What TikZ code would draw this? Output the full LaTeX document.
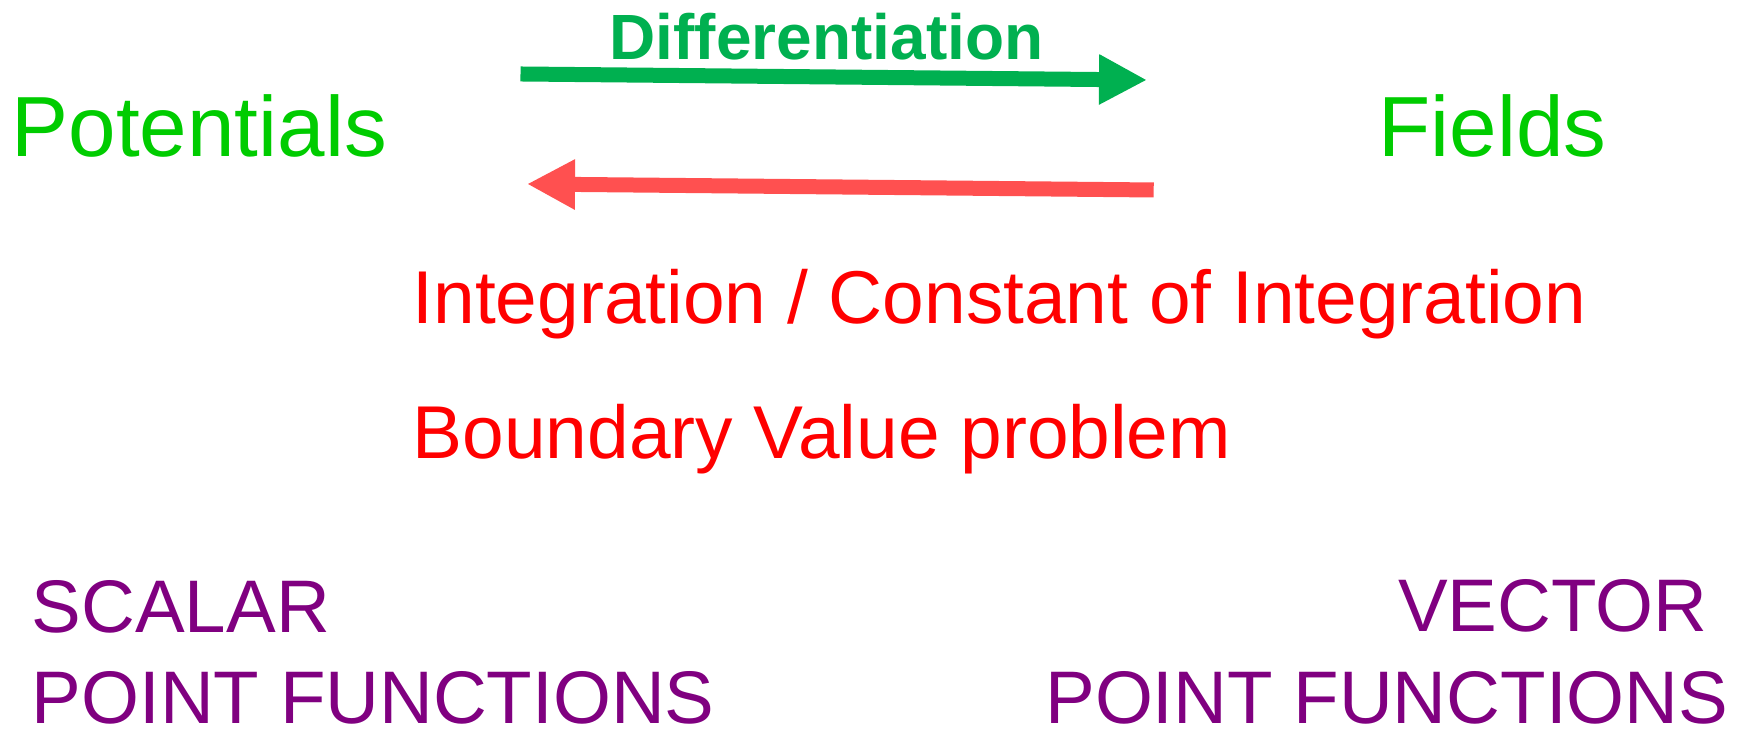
\documentclass[tikz,border=0pt]{standalone}
\usepackage{fontspec}
\setmainfont{Liberation Sans}
\usepackage{xcolor}
\usepackage{tikz}
\usetikzlibrary{arrows.meta}
\definecolor{kgreen}{HTML}{00CC00}
\definecolor{kdiff}{HTML}{00B050}
\definecolor{karrow}{HTML}{FF5050}
\definecolor{kred}{HTML}{FF0000}
\definecolor{kpurple}{HTML}{800080}

\tikzset{
  bigword/.style={font=\fontsize{24.3}{29}\selectfont, text=kgreen, inner sep=0pt},
  redline/.style={font=\fontsize{21.3}{25}\selectfont, text=kred, inner sep=0pt, anchor=base west},
  kindline/.style={font=\fontsize{21.2}{25}\selectfont, text=kpurple, inner sep=0pt},
  fatarrow/.style={line width=0.15cm, -{Triangle[length=4.8mm, width=4.7mm]}}
}

\begin{document}
\begin{tikzpicture}[x=1cm, y=1cm]
\fill[white] (0,0) rectangle (17.40,7.34);
\useasboundingbox (0,0) rectangle (17.40,7.34);

% the two kinds of quantity
\node[bigword, anchor=base west] (potentials) at (0.11,5.77) {Potentials};
\node[bigword, anchor=base west] (fields) at (13.78,5.77) {Fields};

% forward and backward
\coordinate (diffstart) at (5.205,6.60);
\coordinate (diffend) at (11.47,6.54);
\coordinate (intstart) at (11.537,5.44);
\coordinate (intend) at (5.27,5.50);
\draw[fatarrow, kdiff] (diffstart) -- (diffend);
\draw[fatarrow, karrow] (intstart) -- (intend);
\node[font=\fontsize{18.2}{22}\selectfont\bfseries, text=kdiff, inner sep=0pt, anchor=base west]
  (diff) at (6.09,6.747) {Differentiation};

\node[redline] (integ) at (4.12,4.10) {Integration / Constant of Integration};
\node[redline] (bvp) at (4.12,2.757) {Boundary Value problem};

% point functions
\node[kindline, anchor=base west] (scalar) at (0.31,1.013) {SCALAR};
\node[kindline, anchor=base west] (scalarpf) at (0.31,0.10) {POINT FUNCTIONS};
\node[kindline, anchor=base east] (vector) at (17.08,1.02) {VECTOR};
\node[kindline, anchor=base east] (vectorpf) at (17.29,0.10) {POINT FUNCTIONS};
\end{tikzpicture}
\end{document}
